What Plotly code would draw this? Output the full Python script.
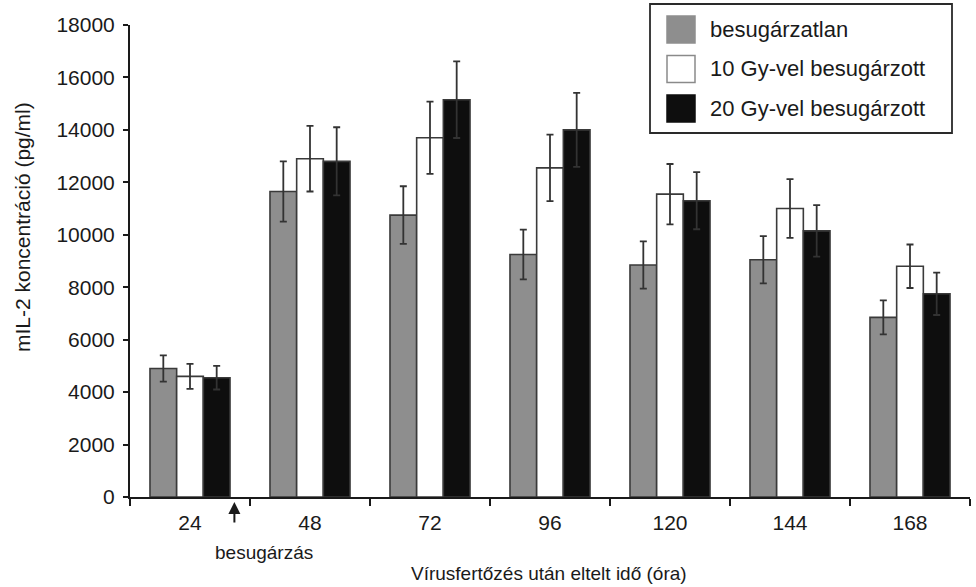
import plotly.graph_objects as go

# ---- data ----
categories = ["24", "48", "72", "96", "120", "144", "168"]
series_names = ["besugárzatlan", "10 Gy-vel besugárzott", "20 Gy-vel besugárzott"]
unirradiated = [4900, 11650, 10750, 9250, 8850, 9050, 6850]
unirradiated_err = [500, 1150, 1100, 950, 900, 900, 650]
gy10 = [4600, 12900, 13700, 12550, 11550, 11000, 8800]
gy10_err = [480, 1250, 1380, 1270, 1150, 1120, 830]
gy20 = [4550, 12800, 15150, 14000, 11300, 10150, 7750]
gy20_err = [450, 1300, 1460, 1410, 1090, 980, 810]
y_ticks = [0, 2000, 4000, 6000, 8000, 10000, 12000, 14000, 16000, 18000]

# ---- layout geometry ----
W, H = 976, 587
ML, MR, MT, MB = 130, 6, 25, 90
PW, PH = W - ML - MR, H - MT - MB
FONT = "Liberation Sans, Arial, sans-serif"


def px(xp):
    return (xp - ML) / PW


def py(yp):
    return (H - MB - yp) / PH


fills = ["#8e8e8e", "#ffffff", "#0e0e0e"]
values = [unirradiated, gy10, gy20]
errors = [unirradiated_err, gy10_err, gy20_err]

fig = go.Figure()
for name, vals, errs, col in zip(series_names, values, errors, fills):
    fig.add_trace(go.Bar(
        x=categories, y=vals, name=name, showlegend=False,
        marker=dict(color=col, line=dict(color="#3a3a3a", width=1.6)),
        error_y=dict(type="data", array=errs, visible=True,
                     color="#333333", thickness=1.8, width=3.5),
    ))

fig.update_layout(
    width=W, height=H,
    margin=dict(l=ML, r=MR, t=MT, b=MB, autoexpand=False),
    paper_bgcolor="white", plot_bgcolor="white",
    barmode="group", bargap=0.333, bargroupgap=0,
    font=dict(family=FONT, color="#1a1a1a", size=21),
    xaxis=dict(
        type="category", tickson="boundaries", ticks="outside", ticklen=7,
        tickwidth=2, tickcolor="#1a1a1a", automargin=False,
        showline=True, linecolor="#1a1a1a", linewidth=2,
        showgrid=False, zeroline=False, ticklabelstandoff=6,
        tickfont=dict(size=21),
    ),
    yaxis=dict(
        range=[0, 18000], tickvals=y_ticks, tickformat="d",
        ticks="outside", ticklen=5, automargin=False,
        tickwidth=2, tickcolor="#1a1a1a",
        showline=True, linecolor="#1a1a1a", linewidth=2,
        showgrid=False, zeroline=False, ticklabelstandoff=4,
        tickfont=dict(size=21),
    ),
)

# x-axis title
fig.add_annotation(
    text="Vírusfertőzés után eltelt idő (óra)",
    xref="paper", yref="paper", x=px(549), y=py(573),
    xanchor="center", yanchor="middle", showarrow=False,
    font=dict(size=19, family=FONT),
)
# y-axis title (shifted up, as in the original)
fig.add_annotation(
    text="mIL-2 koncentráció (pg/ml)", textangle=-90,
    xref="paper", yref="paper", x=px(22), y=py(227),
    xanchor="center", yanchor="middle", showarrow=False,
    font=dict(size=21, family=FONT),
)

# irradiation arrow + label
fig.add_annotation(
    text="", xref="x", yref="paper", x=0.37, y=py(502),
    showarrow=True, ax=0, ay=22, arrowhead=2, arrowsize=1.2,
    arrowwidth=2, arrowcolor="#1a1a1a",
)
fig.add_annotation(
    text="besugárzás", xref="paper", yref="paper", x=px(264), y=py(552),
    xanchor="center", yanchor="middle", showarrow=False,
    font=dict(size=19, family=FONT),
)

# custom legend (large swatches as in the original)
fig.add_shape(type="rect", xref="paper", yref="paper",
              x0=px(650), x1=px(952), y0=py(133), y1=py(4),
              line=dict(color="#2a2a2a", width=1.8), fillcolor="white")
row_centers = [29.5, 69, 108.5]
swatch_lines = ["#8e8e8e", "#8a8a8a", "#0e0e0e"]
for name, col, lc, yc in zip(series_names, fills, swatch_lines, row_centers):
    fig.add_shape(type="rect", xref="paper", yref="paper",
                  x0=px(667), x1=px(695), y0=py(yc + 13.5), y1=py(yc - 13.5),
                  line=dict(color=lc, width=1.5), fillcolor=col)
    fig.add_annotation(text=name, xref="paper", yref="paper",
                       x=px(708), y=py(yc), xanchor="left", yanchor="middle",
                       showarrow=False, font=dict(size=22, family=FONT))

fig.write_html("out.html",
               config={"displayModeBar": False},
               post_script="document.body.style.margin='0';"
                           "document.body.style.overflow='hidden';")
